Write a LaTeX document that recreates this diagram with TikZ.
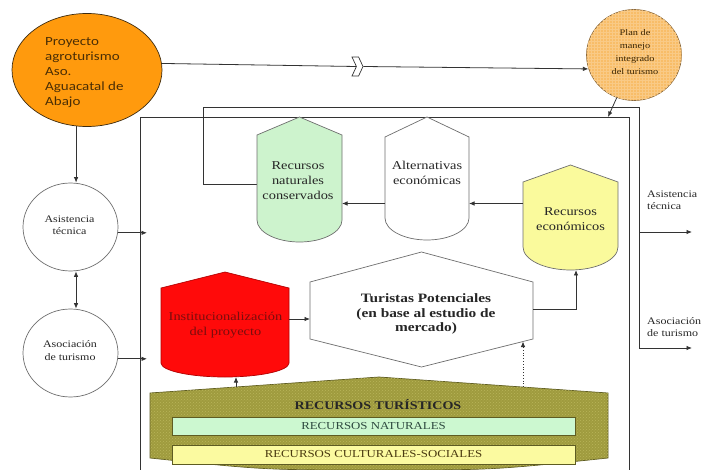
\documentclass[tikz,border=0pt]{standalone}
\usepackage{fontspec}
\setmainfont[FakeStretch=1.2]{Liberation Serif}
\newfontfamily\calibrifont[FakeStretch=1.2]{Carlito}
\usetikzlibrary{arrows.meta,calc,shapes.geometric,shapes.symbols,patterns}

\definecolor{orangefill}{HTML}{FF9A0D}
\definecolor{orangeline}{HTML}{3D2B10}
\definecolor{orangetext}{HTML}{4A2E05}
\definecolor{planfill}{HTML}{F8BD68}
\definecolor{planline}{HTML}{8A6A40}
\definecolor{plantext}{HTML}{3A2400}
\definecolor{greenfill}{HTML}{CDF3CD}
\definecolor{yellowfill}{HTML}{FAFA9C}
\definecolor{redfill}{HTML}{FF0A0A}
\definecolor{redline}{HTML}{B00000}
\definecolor{redtext}{HTML}{7A0D0D}
\definecolor{olivefill}{HTML}{9F9B3E}
\definecolor{olivedots}{HTML}{B9B55A}
\definecolor{oliveline}{HTML}{5E5C22}
\definecolor{natfill}{HTML}{CCF8D0}
\definecolor{nattext}{HTML}{2E4A40}
\definecolor{culfill}{HTML}{FBFAA0}
\definecolor{cultext}{HTML}{4A3A10}
\definecolor{shapeline}{HTML}{6E6E6E}
\definecolor{linegray}{HTML}{333333}
\definecolor{textdark}{HTML}{262626}

% tank outline: pointed roof, straight sides, rounded bottom
% #1 node, #2 roof drop, #3 bottom bulge
\newcommand\tankpath[3]{(#1.north) -- ([yshift=-#2pt]#1.north east)
  -- ([yshift=#3pt]#1.south east)
  .. controls ([yshift=0.45*#3pt]#1.south east) and ($(#1.south)!0.55!(#1.south east)$)
  .. (#1.south)
  .. controls ($(#1.south)!0.55!(#1.south west)$) and ([yshift=0.45*#3pt]#1.south west)
  .. ([yshift=#3pt]#1.south west)
  -- ([yshift=-#2pt]#1.north west) -- cycle}

\begin{document}
\begin{tikzpicture}[x=1pt,y=-1pt,
  box/.style={draw=none,inner sep=0pt,outer sep=0pt},
  tip/.style={-{Latex[length=5.5pt,width=4.5pt]}},
  wire/.style={draw=linegray,line width=0.8pt},
  conn/.style={wire,tip},
  lbl/.style={inner sep=0pt,align=center,text=textdark,font=\fontsize{12}{15}\selectfont},
  small/.style={inner sep=0pt,text=textdark,font=\fontsize{10}{12.3}\selectfont},
  outline/.style={draw=shapeline,line width=0.7pt}]
\useasboundingbox (0,0) rectangle (701,470);
\clip (0,0) rectangle (701,470);

% inner frame
\node[draw=linegray,line width=0.9pt,inner sep=0pt,outer sep=0pt,
  minimum width=489pt,minimum height=363pt,anchor=north west] (frame) at (140,117) {};

% named points used by connectors
\coordinate (loopL) at (203,107);
\coordinate (loopR) at (639,107);
\coordinate (outA) at (692,232);
\coordinate (outB) at (692,348);
\coordinate (planin) at (608,117);
\coordinate (inL) at (147,0);
\coordinate (rowA) at (0,203.5);
\coordinate (rowB) at (0,319);
\coordinate (oliveA) at (236,387);
\coordinate (oliveB) at (523,387);
\coordinate (turB) at (523,341.5);

% top entities
\node[ellipse,draw=orangeline,line width=0.7pt,fill=orangefill,inner sep=0pt,
  minimum width=150pt,minimum height=113pt] (orange) at (87,70) {};
\node[inner sep=0pt,anchor=west,align=left,text=orangetext,
  font=\calibrifont\fontsize{12.5}{14.8}\selectfont] (orangeText) at (45,72.5)
  {Proyecto\\agroturismo\\Aso.\\Aguacatal de\\Abajo};

\node[ellipse,draw=planline,line width=0.7pt,fill=planfill,inner sep=0pt,
  minimum width=95pt,minimum height=91pt,
  postaction={pattern=grid,pattern color=planfill!80!white}] (plan) at (634,55) {};
\node[inner sep=0pt,align=center,text=plantext,
  font=\fontsize{8.6}{12.9}\selectfont] (planText) at (635,52)
  {Plan de\\manejo\\integrado\\del turismo};

\node[signal,signal from=west,signal to=east,signal pointer angle=130,
  draw=linegray,line width=0.7pt,fill=white,inner sep=0pt,
  minimum width=11pt,minimum height=19pt] (brk) at (357.5,66.5) {};

% side circles
\node[ellipse,draw=shapeline,line width=0.7pt,fill=white,inner sep=0pt,
  minimum width=95pt,minimum height=88pt] (asis) at (70.5,227) {};
\node[small,align=center] (asisText) at (69.5,225) {Asistencia\\técnica};
\node[ellipse,draw=shapeline,line width=0.7pt,fill=white,inner sep=0pt,
  minimum width=95pt,minimum height=88pt] (asoc) at (70.5,353) {};
\node[small,align=center] (asocText) at (70,350.5) {Asociación\\de turismo};

% outputs on the right
\node[small,align=left,anchor=west] (outAText) at (647,200.5) {Asistencia\\técnica};
\node[small,align=left,anchor=west] (outBText) at (647,327) {Asociación\\de turismo};

% shape boxes
\node[box,minimum width=85pt,minimum height=125pt] (green) at (299.5,179.5) {};
\node[box,minimum width=84pt,minimum height=123pt] (alt) at (427,178.5) {};
\node[box,minimum width=95pt,minimum height=105pt] (econ) at (570.5,217.5) {};
\node[box,minimum width=128pt,minimum height=105pt] (red) at (225,324.5) {};
\node[box,minimum width=223pt,minimum height=115pt] (tur) at (421.5,309.5) {};
\node[box,minimum width=458pt,minimum height=93pt] (olive) at (379,423.5) {};

% loop from the conserved resources round the frame to the outputs
\draw[conn] ([yshift=-4.5pt]green.west) -| (loopL) -- (loopR) |- (outB);

% shape outlines
\path[outline,fill=greenfill] \tankpath{green}{18}{22};
\path[outline,fill=white] \tankpath{alt}{20}{22};
\path[outline,fill=yellowfill] \tankpath{econ}{17}{23};
\path[draw=redline,line width=0.7pt,fill=redfill] \tankpath{red}{16}{14};
\path[outline,fill=white] (tur.north) -- ([yshift=-30pt]tur.north east)
  -- ([yshift=28pt]tur.south east) -- (tur.south)
  -- ([yshift=28pt]tur.south west) -- ([yshift=-30pt]tur.north west) -- cycle;
\path[draw=oliveline,line width=0.7pt,fill=olivefill,
  postaction={pattern=crosshatch dots,pattern color=olivedots}]
  ([yshift=-16pt]olive.north west) -- (olive.north) -- ([yshift=-16pt]olive.north east)
  -- ([yshift=12pt]olive.south east)
  .. controls ($(olive.south)!0.5!(olive.south east)$) .. (olive.south)
  .. controls ($(olive.south)!0.5!(olive.south west)$) .. ([yshift=12pt]olive.south west)
  -- cycle;

% labels inside shapes
\node[lbl] (greenText) at (298,181) {Recursos\\naturales\\conservados};
\node[lbl] (altText) at (427,173) {Alternativas\\económicas};
\node[lbl] (econText) at (570.5,219) {Recursos\\económicos};
\node[lbl,text=redtext] (redText) at (225.5,325.5) {Institucionalización\\del proyecto};
\node[lbl,font=\bfseries\fontsize{12.8}{14.2}\selectfont] (turText) at (426,314)
  {Turistas Potenciales\\(en base al estudio de\\mercado)};
\node[inner sep=0pt,text=black!85,font=\bfseries\fontsize{11.7}{14}\selectfont]
  (oliveText) at (378,405) {RECURSOS TURÍSTICOS};
\node[draw=oliveline,line width=0.6pt,fill=natfill,inner sep=0pt,text=nattext,
  font=\fontsize{10.7}{12}\selectfont,minimum width=403pt,minimum height=18pt]
  (nat) at (373.5,426) {RECURSOS NATURALES};
\node[draw=oliveline,line width=0.6pt,fill=culfill,inner sep=0pt,text=cultext,
  font=\fontsize{10.7}{12}\selectfont,minimum width=403pt,minimum height=19pt]
  (cul) at (373.5,454.5) {RECURSOS CULTURALES-SOCIALES};

% connectors
\draw[wire] (orange.5) -- (brk.west);
\draw[conn] (brk.east) -- (plan.197);
\draw[conn] (plan.-112) -- (planin);
\draw[conn] (orange.-101) -- (orange.-101 |- asis.north);
\draw[wire,{Latex[length=5.5pt,width=4.5pt]}-{Latex[length=5.5pt,width=4.5pt]}]
  ([xshift=5.5pt]asis.south) -- ([xshift=5.5pt]asoc.north);
\draw[conn] (asis.-7) -- (asis.-7 -| inL);
\draw[conn] (asoc.-7) -- (asoc.-7 -| inL);
\draw[conn] (loopR |- outA) -- (outA);
\draw[conn] (econ.west |- rowA) -- (alt.east |- rowA);
\draw[conn] (alt.west |- rowA) -- (green.east |- rowA);
\draw[conn] (red.east |- rowB) -- (tur.west |- rowB);
\draw[conn] (tur.east) -| ([xshift=5.5pt]econ.south);
\draw[conn] (oliveA) -- (oliveA |- red.south);
\draw[conn,dotted] (oliveB) -- (turB);
\end{tikzpicture}
\end{document}
